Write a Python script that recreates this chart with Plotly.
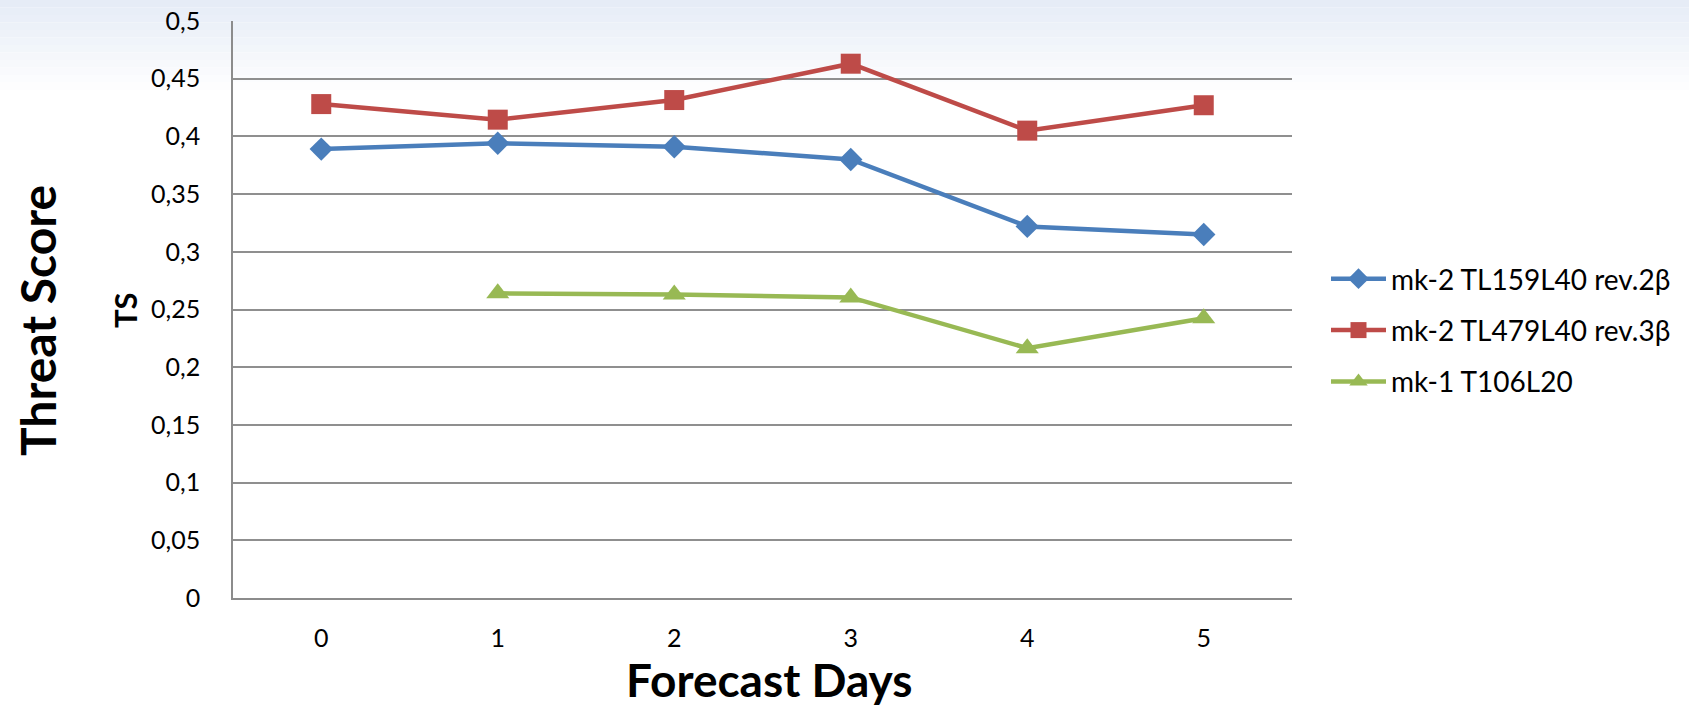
import plotly.graph_objects as go

# ---- data ----
days = [0, 1, 2, 3, 4, 5]
day_labels = ["0", "1", "2", "3", "4", "5"]
mk2_tl159 = [0.389, 0.394, 0.391, 0.380, 0.322, 0.315]
mk2_tl479 = [0.428, 0.4145, 0.4315, 0.463, 0.405, 0.427]
mk1_t106 = [None, 0.264, 0.263, 0.2605, 0.2165, 0.2425]
series_names = ["mk-2 TL159L40 rev.2β", "mk-2 TL479L40 rev.3β", "mk-1 T106L20"]
y_tick_vals = [0, 0.05, 0.1, 0.15, 0.2, 0.25, 0.3, 0.35, 0.4, 0.45, 0.5]
y_tick_text = ["0", "0,05", "0,1", "0,15", "0,2", "0,25", "0,3", "0,35", "0,4", "0,45", "0,5"]

FONT = "Lato, 'Open Sans', sans-serif"
colors = ["#4A7EBB", "#BE4B48", "#98B954"]
symbols = ["diamond", "square", "triangle-up"]
sizes = [18, 20, 20]
series = [mk2_tl159, mk2_tl479, mk1_t106]

fig = go.Figure()
for i, (name, vals) in enumerate(zip(series_names, series)):
    fig.add_trace(go.Scatter(
        x=days, y=vals, name=name, mode="lines+markers",
        line=dict(color=colors[i], width=4.5),
        marker=dict(symbol=symbols[i], size=sizes[i], color=colors[i]),
        legendgroup=f"g{i}", connectgaps=False,
    ))

# gradient background at top of page
shapes = []
W, H = 1689, 708
L, R, T, B = 233, 397, 21, 110
pw, ph = W - L - R, H - T - B
n_bands = 12
band_h = 7.5
top_c = (230, 236, 246)
for k in range(n_bands):
    f = k / n_bands
    c = tuple(round(top_c[j] + (255 - top_c[j]) * f) for j in range(3))
    y_top = k * band_h
    y_bot = (k + 1) * band_h
    shapes.append(dict(
        type="rect", xref="paper", yref="paper", layer="below",
        x0=-L / pw, x1=1 + R / pw,
        y0=1 + (T - y_bot) / ph, y1=1 + (T - y_top) / ph,
        fillcolor=f"rgb{c}", line=dict(width=0),
    ))

fig.update_layout(
    width=W, height=H,
    margin=dict(l=L, r=R, t=T, b=B, autoexpand=False),
    paper_bgcolor="white", plot_bgcolor="rgba(0,0,0,0)",
    font=dict(family=FONT, color="black", size=25),
    shapes=shapes,
    showlegend=True,
    legend=dict(
        x=(1326 - L) / pw, xanchor="left", y=(598 - 254) / ph, yanchor="top",
        font=dict(family=FONT, size=28, color="black"),
        traceorder="grouped", tracegroupgap=12, itemwidth=55,
        bgcolor="rgba(0,0,0,0)",
    ),
    xaxis=dict(
        range=[-0.5, 5.5], tickvals=days, ticktext=day_labels,
        showgrid=False, zeroline=False, showline=True,
        linecolor="#8c8c8c", linewidth=1.5,
        ticks="", ticklabelstandoff=17,
        tickfont=dict(family=FONT, size=25),
        fixedrange=True,
    ),
    yaxis=dict(
        range=[0, 0.5], tickvals=y_tick_vals, ticktext=y_tick_text,
        showgrid=True, gridcolor="#8f8f8f", gridwidth=1.5,
        zeroline=False, showline=True, linecolor="#8c8c8c", linewidth=1.5,
        ticks="", ticklabelstandoff=26,
        tickfont=dict(family=FONT, size=25),
        fixedrange=True,
    ),
    annotations=[
        dict(text="<b>Threat Score</b>", xref="paper", yref="paper",
             x=(37 - L) / pw, y=(598 - 321) / ph, textangle=-90,
             showarrow=False, font=dict(family=FONT, size=48, color="black"),
             xanchor="center", yanchor="middle"),
        dict(text="<b>TS</b>", xref="paper", yref="paper",
             x=(125 - L) / pw, y=(598 - 310) / ph, textangle=-90,
             showarrow=False, font=dict(family=FONT, size=31, color="black"),
             xanchor="center", yanchor="middle"),
        dict(text="<b>Forecast Days</b>", xref="paper", yref="paper",
             x=(769 - L) / pw, y=(598 - 684) / ph, height=46, valign="bottom",
             showarrow=False, font=dict(family=FONT, size=46, color="black"),
             xanchor="center", yanchor="middle"),
    ],
)

fig.write_html(
    "out.html",
    config={"displayModeBar": False},
    post_script=(
        "document.documentElement.style.margin='0';"
        "document.body.style.margin='0';document.body.style.padding='0';"
        "document.body.style.overflow='hidden';"
        "var d=document.getElementById('{plot_id}');"
        "d.style.position='absolute';d.style.top='0px';d.style.left='0px';"
    ),
)
